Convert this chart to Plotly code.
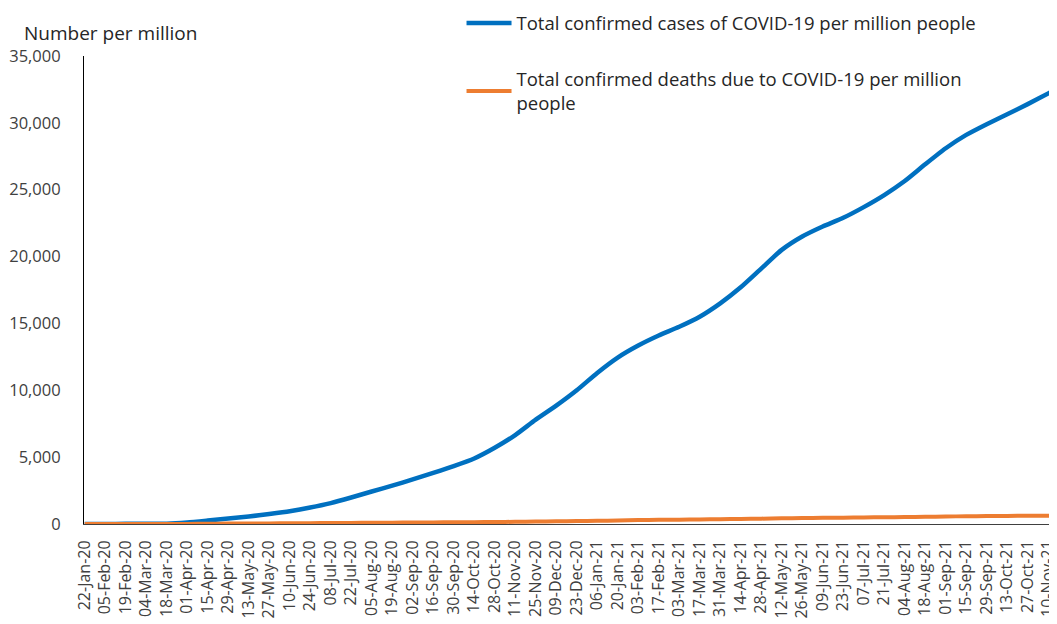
import plotly.graph_objects as go
import pandas as pd

# Dates every 14 days from 22-Jan-20 (one extra point past the last tick so the line runs off the edge)
dates = pd.date_range("2020-01-22", periods=49, freq="14D")

cases_per_million = [
    0.1, 3, 10, 12, 28, 120, 260, 410, 560, 750,
    960, 1230, 1560, 1980, 2430, 2870, 3330, 3820, 4330, 4900,
    5700, 6650, 7800, 8850, 10000, 11300, 12450, 13350, 14100, 14750,
    15500, 16500, 17700, 19100, 20500, 21500, 22250, 22900, 23700, 24600,
    25650, 26900, 28100, 29100, 29900, 30650, 31400, 32200, 33000,
]

deaths_per_million = [
    0, 0.07, 0.3, 0.4, 1.1, 6, 17, 29, 38, 46,
    53, 62, 71, 81, 92, 101, 110, 120, 129, 139,
    150, 164, 182, 200, 220, 240, 265, 290, 310, 325,
    340, 355, 375, 400, 425, 445, 460, 475, 490, 505,
    520, 540, 560, 580, 595, 605, 615, 625, 635,
]

tick_dates = pd.date_range("2020-01-22", "2021-11-10", freq="14D")
tick_labels = [d.strftime("%d-%b-%y") for d in tick_dates]

y_ticks = [0, 5000, 10000, 15000, 20000, 25000, 30000, 35000]

series_names = [
    "Total confirmed cases of COVID-19 per million people",
    "Total confirmed deaths due to COVID-19 per million<br>people",
]

FONT = "Open Sans"

fig = go.Figure()
fig.add_trace(go.Scatter(
    x=dates, y=cases_per_million, mode="lines", name=series_names[0],
    line=dict(color="#0070C0", width=4.5, shape="spline", smoothing=0.6),
    legendgroup="a",
))
fig.add_trace(go.Scatter(
    x=dates, y=deaths_per_million, mode="lines", name=series_names[1],
    line=dict(color="#ED7D31", width=4, shape="spline", smoothing=0.6),
    legendgroup="b",
))

# The page body adds an 8px margin, so the figure is sized 8px smaller
fig.update_layout(
    width=1049, height=616,
    margin=dict(l=76, r=0, t=48, b=100, autoexpand=False),
    paper_bgcolor="white", plot_bgcolor="white",
    font=dict(family=FONT, size=14, color="#404040"),
    showlegend=True,
    legend=dict(
        x=0.388, y=1.11, xanchor="left", yanchor="top",
        font=dict(family=FONT, size=18.5, color="#262626"),
        itemwidth=45, tracegroupgap=29,
        bgcolor="rgba(0,0,0,0)",
    ),
    annotations=[dict(
        text="Number per million", xref="paper", yref="paper",
        x=-0.0636, y=1.049, xanchor="left", yanchor="middle",
        showarrow=False, font=dict(family=FONT, size=19, color="#262626"),
    )],
)

fig.update_xaxes(
    type="date", automargin=False,
    range=["2020-01-21 12:00", "2021-11-16 00:00"],
    tickvals=list(tick_dates), ticktext=tick_labels,
    tickangle=-90, ticks="", ticklabelstandoff=9,
    ticklabeloverflow="allow",
    showgrid=False, zeroline=False,
    showline=True, linecolor="#404040", linewidth=1,
    tickfont=dict(family=FONT, size=16, color="#404040"),
)
fig.update_yaxes(
    automargin=False,
    range=[0, 35000], tickvals=y_ticks, tickformat=",d",
    ticks="", ticklabelstandoff=19,
    showgrid=False, zeroline=False,
    showline=True, linecolor="#000000", linewidth=1,
    tickfont=dict(family=FONT, size=16.5, color="#404040"),
)

fig.write_html("out.html")
